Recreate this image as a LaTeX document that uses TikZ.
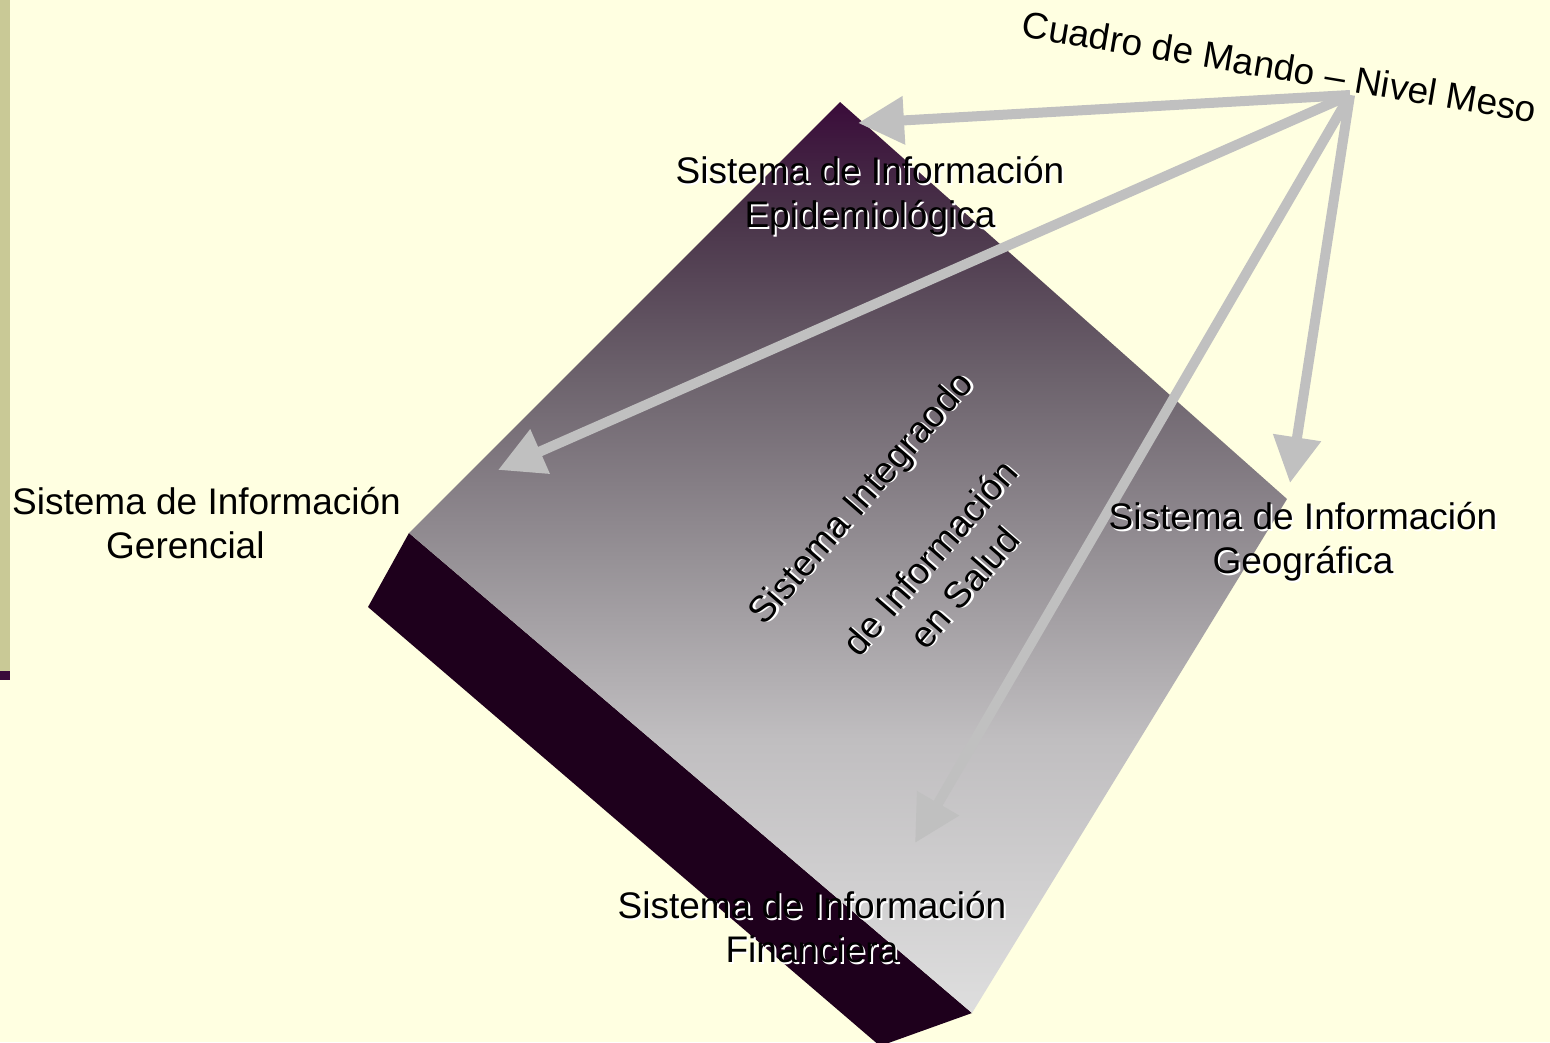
\documentclass[tikz,border=0pt]{standalone}
\usepackage{fontspec}
\setmainfont{Liberation Sans}
\usetikzlibrary{arrows.meta}
\definecolor{bg}{RGB}{255,255,225}
\definecolor{khaki}{RGB}{201,201,150}
\definecolor{plum}{RGB}{58,10,58}
\definecolor{sA}{RGB}{58,12,58}
\definecolor{sB}{RGB}{72,50,72}
\definecolor{sC}{RGB}{108,98,108}
\definecolor{sD}{RGB}{150,145,150}
\definecolor{sE}{RGB}{192,190,192}
\definecolor{sF}{RGB}{222,222,222}
\definecolor{sideface}{RGB}{30,0,28}
\definecolor{arrowgray}{RGB}{192,192,192}
\pgfdeclareverticalshading{boxshade}{100bp}{color(0bp)=(sF); color(25bp)=(sF); color(40bp)=(sE); color(50bp)=(sD); color(60bp)=(sC); color(69bp)=(sB); color(75bp)=(sA); color(100bp)=(sA)}
\newcommand{\shd}[1]{\makebox[0pt][l]{\hspace{1.8pt}\raisebox{-1.8pt}{\textcolor{white}{#1}}}#1}
\begin{document}
\begin{tikzpicture}[x=1pt,y=-1pt,
  lbl/.style={font=\fontsize{37}{44}\selectfont, align=center, inner sep=0pt, text=black},
  conn/.style={draw=arrowgray, line width=10pt, -{Triangle[width=46pt,length=46pt]}},
]
\useasboundingbox (0,0) rectangle (1550,1042);
\fill[bg] (0,0) rectangle (1550,1042);
\fill[khaki] (0,0) rectangle (10,671);
\fill[plum] (0,671) rectangle (10,680);
\begin{scope}
\clip (0,0) rectangle (1550,1042);
\fill[sideface] (409,533) -- (368,607) -- (880,1046) -- (972,1013) -- cycle;
\shade[shading=boxshade] (840,102) -- (1287,499) -- (972,1013) -- (409,533) -- cycle;
\end{scope}

\coordinate (hub) at (1350,95);
\coordinate (tipE) at (858,123);
\coordinate (tipG) at (498,470);
\coordinate (tipF) at (915,843);
\coordinate (tipGeo) at (1290,483);

\draw[conn] (hub) -- (tipE);
\draw[conn] (hub) -- (tipG);
\draw[conn] (hub) -- (tipF);
\draw[conn] (hub) -- (tipGeo);

\node[lbl, rotate=-9.5] (cuadro) at (1279,71) {\strut Cuadro de Mando – Nivel Meso};
\node[lbl] (epi) at (870,197) {\shd{Sistema de Información}\strut\\\shd{Epidemiológica}\strut};
\node[lbl, align=left, anchor=west] (ger) at (12,528) {Sistema de Información\strut\\\hspace*{94pt}Gerencial\strut};
\node[lbl] (geo) at (1303,543) {\shd{Sistema de Información}\strut\\\shd{Geográfica}\strut};
\node[lbl] (fin) at (812,932) {\shd{Sistema de Información}\strut\\\shd{Financiera}\strut};
\node[lbl, font=\fontsize{37}{46}\selectfont, rotate=49] (sis) at (915,545) {\shd{Sistema Integraodo}\strut\\[46pt]\shd{de Información}\\\shd{en Salud}\strut};
\end{tikzpicture}
\end{document}
